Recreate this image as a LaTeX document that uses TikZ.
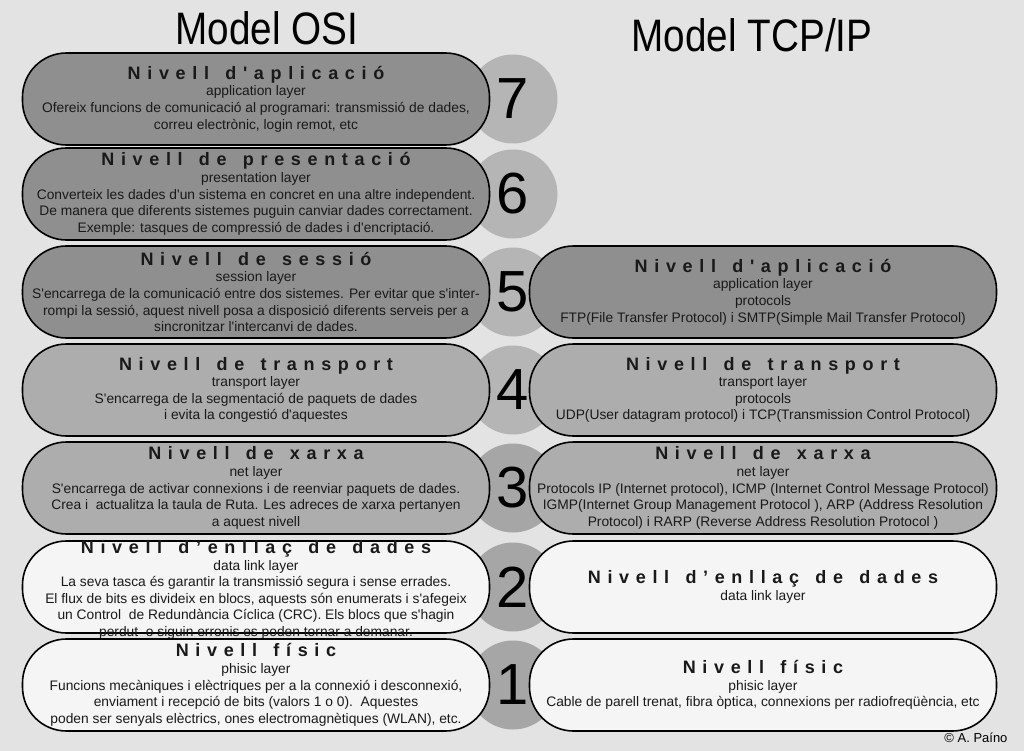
\documentclass[tikz,border=0pt]{standalone}
\usepackage{fontspec}
\setmainfont{Liberation Sans}[Ligatures=TeXOff]
\newfontfamily\nivfont[LetterSpace=37,WordSpace=1.4,Ligatures=TeXOff]{Liberation Sans}
\newfontfamily\titfont[FakeStretch=0.85]{Liberation Sans}

\definecolor{fons}{gray}{0.89}
\definecolor{fosc}{gray}{0.56}
\definecolor{mig}{gray}{0.68}
\definecolor{clar}{gray}{0.96}
\definecolor{cerclea}{gray}{0.71}
\definecolor{cercleb}{gray}{0.65}

\tikzset{
  capsa/.style={draw, line width=1.6pt, rounded corners=44pt,
    minimum width=467pt, minimum height=92pt, inner sep=0pt},
  text capsa/.style={align=center, inner sep=0pt, text=black!90,
    font=\fontsize{13.8}{16.6}\selectfont},
  cercle/.style={circle, minimum size=89pt, inner sep=0pt,
    font=\fontsize{58}{58}\selectfont},
  titol/.style={font=\titfont\fontsize{45.5}{45}\selectfont}
}
\newcommand{\nivell}[1]{{\nivfont\bfseries\fontsize{18}{17}\selectfont #1}}

\begin{document}
\begin{tikzpicture}[x=1pt,y=-1pt]
    % Fons
    \fill[fons] (0,0) rectangle (1024,751);
    \useasboundingbox (0,0) rectangle (1024,751);

    % Titols
    \node[titol] (osi) at (267,28) {Model OSI};
    \node[titol] (tcp) at (752,35) {Model TCP/IP};

    % Cercles numerats
    \node[cercle, fill=cerclea] (n7) at (513,99) {7};
    \node[cercle, fill=cerclea] (n6) at (513,194) {6};
    \node[cercle, fill=cerclea] (n5) at (513,292) {5};
    \node[cercle, fill=cerclea] (n4) at (513,390) {4};
    \node[cercle, fill=cercleb] (n3) at (513,488) {3};
    \node[cercle, fill=cercleb] (n2) at (513,587) {2};
    \node[cercle, fill=cercleb] (n1) at (513,685) {1};

    % Model OSI
    \node[capsa, fill=fosc] (osi7) at (256,99) {};
    \node[text capsa] (t7) at (osi7) {\nivell{Nivell d'aplicació}\\
      application layer\\
      Ofereix funcions de comunicació al programari: transmissió de dades,\\
      correu electrònic, login remot, etc};

    \node[capsa, fill=fosc] (osi6) at (256,194) {};
    \node[text capsa] (t6) at (osi6) {\nivell{Nivell de presentació}\\
      presentation layer\\
      Converteix les dades d'un sistema en concret en una altre independent.\\
      De manera que diferents sistemes puguin canviar dades correctament.\\
      Exemple: tasques de compressió de dades i d'encriptació.};

    \node[capsa, fill=fosc] (osi5) at (256,292) {};
    \node[text capsa] (t5) at (osi5) {\nivell{Nivell de sessió}\\
      session layer\\
      S'encarrega de la comunicació entre dos sistemes. Per evitar que s'inter-\\
      rompi la sessió, aquest nivell posa a disposició diferents serveis per a\\
      sincronitzar l'intercanvi de dades.};

    \node[capsa, fill=mig] (osi4) at (256,390) {};
    \node[text capsa] (t4) at (osi4) {\nivell{Nivell de transport}\\
      transport layer\\
      S'encarrega de la segmentació de paquets de dades\\
      i evita la congestió d'aquestes};

    \node[capsa, fill=mig] (osi3) at (256,488) {};
    \node[text capsa] (t3) at (osi3) {\nivell{Nivell de xarxa}\\
      net layer\\
      S'encarrega de activar connexions i de reenviar paquets de dades.\\
      Crea i\ \ actualitza la taula de Ruta. Les adreces de xarxa pertanyen\\
      a aquest nivell};

    \node[capsa, fill=clar] (osi2) at (256,587) {};
    \node[text capsa] (t2) at (256,590) {\nivell{Nivell d’enllaç de dades}\\
      data link layer\\
      La seva tasca és garantir la transmissió segura i sense errades.\\
      El flux de bits es divideix en blocs, aquests són enumerats i s'afegeix\\
      un Control\ \ de Redundància Cíclica (CRC). Els blocs que s'hagin\\
      perdut\ \ o siguin erronis es poden tornar a demanar.};

    \node[capsa, fill=clar] (osi1) at (256,685) {};
    \node[text capsa] (t1) at (osi1) {\nivell{Nivell físic}\\
      phisic layer\\
      Funcions mecàniques i elèctriques per a la connexió i desconnexió,\\
      enviament i recepció de bits (valors 1 o 0).\ \ Aquestes\\
      poden ser senyals elèctrics, ones electromagnètiques (WLAN), etc.};

    % Model TCP/IP
    \node[capsa, fill=fosc] (tcp4) at (763,292) {};
    \node[text capsa] (u4) at (tcp4) {\nivell{Nivell d'aplicació}\\
      application layer\\
      protocols\\
      FTP(File Transfer Protocol) i SMTP(Simple Mail Transfer Protocol)};

    \node[capsa, fill=mig] (tcp3) at (763,390) {};
    \node[text capsa] (u3) at (tcp3) {\nivell{Nivell de transport}\\
      transport layer\\
      protocols\\
      UDP(User datagram protocol) i TCP(Transmission Control Protocol)};

    \node[capsa, fill=mig] (tcp2) at (763,488) {};
    \node[text capsa] (u2) at (tcp2) {\nivell{Nivell de xarxa}\\
      net layer\\
      Protocols IP (Internet protocol), ICMP (Internet Control Message Protocol)\\
      IGMP(Internet Group Management Protocol ), ARP (Address Resolution\\
      Protocol) i RARP (Reverse Address Resolution Protocol )};

    \node[capsa, fill=clar] (tcp1) at (763,587) {};
    \node[text capsa] (u1) at (tcp1) {\nivell{Nivell d’enllaç de dades}\\
      data link layer};

    \node[capsa, fill=clar] (tcp0) at (763,685) {};
    \node[text capsa] (u0) at (tcp0) {\nivell{Nivell físic}\\
      phisic layer\\
      Cable de parell trenat, fibra òptica, connexions per radiofreqüència, etc};

    % Autor
    \node[anchor=base east, font=\fontsize{13}{14}\selectfont] (autor) at (1011,742) {© A. Paíno};

\end{tikzpicture}
\end{document}
